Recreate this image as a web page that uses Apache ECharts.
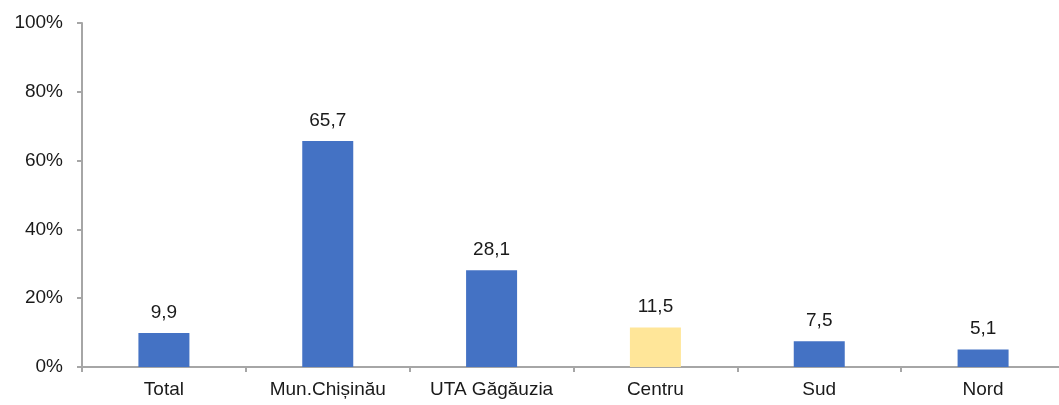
<!DOCTYPE html>
<html lang="ro">
<head>
    <meta charset="UTF-8">
    <title>Chart</title>
    <style>
        *{ margin:0; padding:0; }
        #chart{ width:1059px; height:405px; }
    </style>
</head>
<body>
<div id="chart"></div>
<script src="https://cdn.jsdelivr.net/npm/echarts@6/dist/echarts.min.js"></script>
<script>
    // categorii si valori (%)
    var categories = ['Total', 'Mun.Chișinău', 'UTA Găgăuzia', 'Centru', 'Sud', 'Nord'];
    var values = [9.9, 65.7, 28.1, 11.5, 7.5, 5.1];
    var highlight = 'Centru';

    var blue = '#4472C4';
    var yellow = '#FFE699';
    var axisGray = '#A6A6A6';
    var textColor = '#1a1a1a';
    var font = 'Liberation Sans, Arial, sans-serif';

    var data = [];
    for (var i = 0; i < values.length; i++) {
        data.push({
            value: values[i],
            itemStyle: { color: categories[i] === highlight ? yellow : blue }
        });
    }

    var myChart = echarts.init(document.getElementById('chart'));
    var option = {
        animation: false,
        grid: {
            left: 82,
            width: 983,
            top: 23,
            bottom: 38,
            outerBoundsMode: 'none'
        },
        xAxis: {
            type: 'category',
            data: categories,
            axisLine: { lineStyle: { color: axisGray, width: 2 } },
            axisTick: { show: true, length: 5, lineStyle: { color: axisGray, width: 2 } },
            axisLabel: { color: textColor, fontSize: 19, fontFamily: font, margin: 13 }
        },
        yAxis: {
            type: 'value',
            min: 0,
            max: 100,
            interval: 20,
            splitLine: { show: false },
            axisLine: { show: true, lineStyle: { color: axisGray, width: 2 } },
            axisTick: { show: true, length: 5, lineStyle: { color: axisGray, width: 2 } },
            axisLabel: {
                color: textColor, fontSize: 19, fontFamily: font, margin: 19,
                formatter: '{value}%'
            }
        },
        series: [{
            type: 'bar',
            data: data,
            barWidth: 51,
            label: {
                show: true,
                position: 'top',
                distance: 11,
                color: textColor,
                fontSize: 19,
                fontFamily: font,
                formatter: function (p) {
                    return String(p.value).replace('.', ',');
                }
            }
        }]
    };
    myChart.setOption(option);
</script>
</body>
</html>
